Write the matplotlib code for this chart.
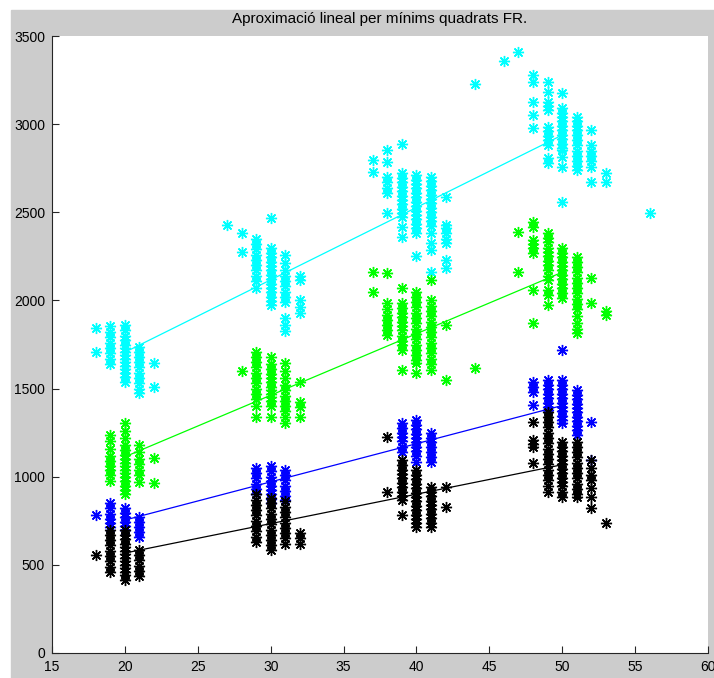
import matplotlib
matplotlib.use("Agg")
import matplotlib.pyplot as plt
from matplotlib.patches import Rectangle

# scatter data: x column -> list of y values, one dict per series
cyan_pts = {
    18: [1842, 1709],
    19: [1855, 1820, 1790, 1760, 1730, 1700, 1670, 1640],
    20: [1860, 1830, 1800, 1775, 1750, 1730, 1710, 1690, 1670, 1650, 1630, 1610, 1590, 1565, 1540],
    21: [1735, 1705, 1680, 1650, 1620, 1590, 1560, 1530, 1500, 1475],
    22: [1643, 1507],
    27: [2430],
    28: [2380, 2276],
    29: [2350, 2320, 2290, 2260, 2230, 2200, 2170, 2140, 2110, 2070],
    30: [2466, 2295, 2270, 2245, 2220, 2195, 2170, 2145, 2120, 2095, 2070, 2045, 2020, 1995, 1975],
    31: [2255, 2210, 2170, 2140, 2110, 2080, 2050, 2020, 1990, 1900, 1860, 1825],
    32: [2140, 2115, 2000, 1965, 1930],
    37: [2796, 2730],
    38: [2853, 2787, 2702, 2670, 2640, 2609, 2494],
    39: [2890, 2722, 2695, 2670, 2645, 2620, 2595, 2570, 2545, 2520, 2495, 2473, 2416, 2360],
    40: [2711, 2685, 2660, 2635, 2610, 2585, 2560, 2535, 2510, 2485, 2460, 2435, 2411, 2382, 2252],
    41: [2702, 2675, 2650, 2625, 2600, 2575, 2550, 2525, 2500, 2475, 2450, 2420, 2382, 2324, 2286, 2163],
    42: [2588, 2428, 2410, 2380, 2350, 2325, 2229, 2184],
    44: [3227],
    46: [3358],
    47: [3411],
    48: [3279, 3241, 3128, 3052, 2977],
    49: [3241, 3184, 3128, 3104, 3080, 2986, 2960, 2935, 2910, 2880, 2806, 2777],
    50: [3176, 3090, 3065, 3040, 3015, 2990, 2965, 2940, 2915, 2890, 2865, 2853, 2815, 2759, 2560],
    51: [3042, 3015, 2990, 2965, 2940, 2910, 2880, 2850, 2820, 2790, 2760, 2740],
    52: [2967, 2880, 2850, 2820, 2790, 2759, 2673],
    53: [2721, 2673],
    56: [2498],
}
green_pts = {
    19: [1236, 1200, 1160, 1120, 1090, 1060, 1040, 1010, 975],
    20: [1303, 1260, 1220, 1180, 1150, 1125, 1100, 1080, 1060, 1040, 1020, 1000, 975, 950, 925, 900],
    21: [1180, 1140, 1100, 1070, 1040, 1010, 970],
    22: [1104, 963],
    28: [1602],
    29: [1709, 1680, 1650, 1620, 1590, 1560, 1530, 1500, 1470, 1440, 1400, 1340],
    30: [1680, 1640, 1610, 1585, 1560, 1535, 1510, 1490, 1470, 1450, 1430, 1400, 1340],
    31: [1643, 1600, 1560, 1520, 1490, 1460, 1430, 1400, 1370, 1340, 1305],
    32: [1539, 1426, 1397, 1340],
    37: [2163, 2050],
    38: [2155, 1985, 1950, 1920, 1890, 1860, 1830, 1804],
    39: [2069, 1984, 1955, 1930, 1905, 1880, 1855, 1830, 1800, 1770, 1745, 1719, 1605],
    40: [2050, 2020, 1990, 1960, 1930, 1900, 1870, 1840, 1810, 1780, 1750, 1720, 1690, 1660, 1643, 1587],
    41: [2116, 2002, 1970, 1940, 1910, 1880, 1850, 1820, 1790, 1760, 1730, 1700, 1670, 1640, 1605],
    42: [1860, 1548],
    44: [1615],
    47: [2390, 2163],
    48: [2447, 2419, 2343, 2320, 2295, 2268, 2059, 1870],
    49: [2382, 2355, 2330, 2300, 2275, 2250, 2225, 2200, 2170, 2140, 2116, 2059, 2030, 1974],
    50: [2296, 2270, 2245, 2220, 2195, 2170, 2145, 2120, 2095, 2070, 2040, 2013],
    51: [2248, 2220, 2190, 2160, 2130, 2100, 2070, 2040, 2010, 1980, 1950, 1910, 1870, 1840, 1814],
    52: [2125, 1984],
    53: [1940, 1915],
}
blue_pts = {
    18: [783],
    19: [849, 820, 790, 760, 735, 716],
    20: [822, 795, 770, 745, 720, 698],
    21: [773, 745, 715, 685, 660],
    29: [1050, 1020, 990, 960, 930, 900],
    30: [1060, 1030, 1000, 975, 950, 925, 900, 875, 850],
    31: [1040, 1010, 980, 950, 920, 890, 868],
    39: [1303, 1275, 1250, 1225, 1200, 1170, 1142],
    40: [1322, 1295, 1270, 1245, 1220, 1195, 1170, 1145, 1120, 1085],
    41: [1246, 1220, 1195, 1170, 1140, 1110, 1085],
    48: [1539, 1510, 1482, 1407],
    49: [1548, 1520, 1495, 1470, 1445, 1420, 1395, 1378],
    50: [1719, 1548, 1520, 1495, 1470, 1445, 1420, 1395, 1370, 1345, 1320, 1303],
    51: [1492, 1465, 1440, 1415, 1390, 1365, 1340, 1315, 1290, 1265, 1236],
    52: [1312, 1095],
}
black_pts = {
    18: [556],
    19: [700, 670, 640, 610, 580, 550, 520, 490, 461],
    20: [698, 670, 645, 620, 600, 580, 560, 540, 520, 500, 480, 460, 440, 414],
    21: [584, 555, 525, 495, 465, 435],
    29: [900, 870, 840, 810, 780, 750, 720, 690, 660, 630],
    30: [880, 850, 820, 790, 760, 730, 700, 670, 640, 610, 585],
    31: [860, 830, 800, 770, 740, 710, 680, 650, 620],
    32: [680, 650, 620],
    38: [1228, 915],
    39: [1095, 1065, 1040, 1015, 990, 965, 940, 915, 890, 868, 783],
    40: [1038, 1010, 985, 960, 935, 910, 885, 860, 835, 810, 785, 760, 735, 716],
    41: [943, 915, 890, 865, 840, 815, 790, 765, 740, 716],
    42: [943, 830],
    48: [1312, 1208, 1185, 1170, 1076],
    49: [1369, 1340, 1310, 1280, 1250, 1220, 1190, 1160, 1130, 1100, 1070, 1040, 1010, 980, 950, 915],
    50: [1199, 1170, 1145, 1120, 1095, 1070, 1045, 1020, 995, 970, 945, 915, 887],
    51: [1199, 1170, 1140, 1110, 1080, 1050, 1020, 990, 960, 930, 900, 887],
    52: [1095, 1049, 1010, 981, 936, 885, 822],
    53: [739],
}

# least-squares lines, read at both ends
fit_x = [20, 50]
cyan_fit = [1706, 2938]
green_fit = [1113, 2160]
blue_fit = [754, 1404]
black_fit = [567, 1068]

series = [
    (cyan_pts, cyan_fit, "#00ffff"),
    (green_pts, green_fit, "#00ff00"),
    (blue_pts, blue_fit, "#0000ff"),
    (black_pts, black_fit, "#000000"),
]

plt.rcParams["font.family"] = ["Liberation Sans", "DejaVu Sans"]

fig = plt.figure(figsize=(7.14, 6.78), dpi=100)
fig.patch.set_facecolor("white")
fig.patches.append(Rectangle((11 / 714, 0), 703 / 714, 668 / 678,
                             transform=fig.transFigure, color="#cccccc", zorder=-10))

ax = fig.add_axes([52 / 714, 25 / 678, 656 / 714, 617 / 678])

for pts, fit, color in series:
    xs = [x for x, ys in pts.items() for _ in ys]
    ys = [y for _, yl in pts.items() for y in yl]
    ax.plot(xs, ys, linestyle="none", marker=(8, 2, 0), markersize=8,
            markeredgewidth=1.0, color=color)
    ax.plot(fit_x, fit, color=color, linewidth=0.9)

ax.set_xlim(15, 60)
ax.set_ylim(0, 3500)
ax.set_xticks(range(15, 61, 5))
ax.set_yticks(range(0, 3501, 500))
ax.spines["top"].set_visible(False)
ax.spines["right"].set_visible(False)
for side in ("left", "bottom"):
    ax.spines[side].set_color("#262626")
ax.tick_params(direction="in", length=5, width=0.8, color="#262626",
               labelsize=10, pad=5)
ax.set_title("Aproximació lineal per mínims quadrats FR.", fontsize=11, pad=9)

fig.savefig("out.png", dpi=100)
